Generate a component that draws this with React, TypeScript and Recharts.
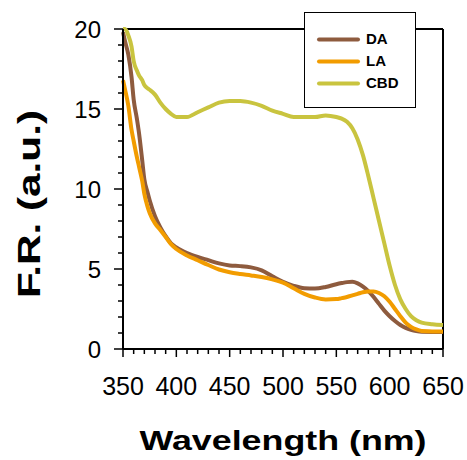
import React from 'react';
import { LineChart, Line, XAxis, YAxis, Legend, ReferenceLine } from 'recharts';

const wavelengths = [350, 352, 355, 358, 360, 363, 365, 368, 370, 373, 375, 380, 385, 390, 395, 400, 410, 420, 430, 440, 450, 460, 470, 480, 490, 500, 510, 520, 530, 540, 550, 555, 560, 565, 570, 575, 580, 585, 590, 595, 600, 605, 610, 615, 620, 625, 630, 640, 650];
const daValues = [19.8, 19.2, 18.4, 17.0, 15.6, 14.4, 13.5, 11.8, 10.6, 9.8, 9.3, 8.3, 7.6, 7.05, 6.6, 6.35, 6.0, 5.75, 5.55, 5.35, 5.22, 5.18, 5.1, 4.92, 4.55, 4.2, 3.95, 3.8, 3.78, 3.88, 4.05, 4.12, 4.18, 4.2, 4.1, 3.9, 3.62, 3.25, 2.82, 2.4, 2.05, 1.75, 1.5, 1.32, 1.2, 1.12, 1.08, 1.07, 1.07];
const laValues = [16.8, 16.2, 15.2, 13.7, 13.0, 12.0, 11.4, 10.5, 9.7, 8.9, 8.5, 7.85, 7.44, 7.0, 6.55, 6.25, 5.85, 5.55, 5.25, 4.97, 4.8, 4.69, 4.6, 4.5, 4.35, 4.15, 3.8, 3.45, 3.22, 3.1, 3.12, 3.18, 3.25, 3.35, 3.45, 3.55, 3.6, 3.6, 3.5, 3.3, 2.95, 2.5, 2.05, 1.65, 1.38, 1.22, 1.13, 1.1, 1.1];
const cbdValues = [20.0, 20.0, 19.6, 18.9, 18.0, 17.4, 17.1, 16.8, 16.5, 16.3, 16.2, 15.9, 15.4, 15.0, 14.7, 14.5, 14.5, 14.8, 15.1, 15.4, 15.5, 15.5, 15.4, 15.2, 14.9, 14.7, 14.5, 14.5, 14.5, 14.6, 14.5, 14.4, 14.2, 13.8, 13.1, 12.1, 10.8, 9.4, 8.0, 6.6, 5.2, 4.0, 3.1, 2.5, 2.05, 1.8, 1.65, 1.55, 1.5];

const xTicks = [350, 360, 370, 380, 390, 400, 410, 420, 430, 440, 450, 460, 470, 480, 490, 500, 510, 520, 530, 540, 550, 560, 570, 580, 590, 600, 610, 620, 630, 640, 650];
const xLabelTicks = [350, 400, 450, 500, 550, 600, 650];
const yTicks = [0, 1, 2, 3, 4, 5, 6, 7, 8, 9, 10, 11, 12, 13, 14, 15, 16, 17, 18, 19, 20];
const yLabelTicks = [0, 5, 10, 15, 20];

const seriesNames = ['DA', 'LA', 'CBD'];
const seriesColors = ['#8e5b3e', '#f29c00', '#c9c43f'];

const data = wavelengths.map((wl, i) => ({
  wl,
  DA: daValues[i],
  LA: laValues[i],
  CBD: cbdValues[i],
}));

const FONT = '"Liberation Sans", Arial, Helvetica, sans-serif';

const XTick = (props: any) => {
  const { x, y, payload } = props;
  const major = xLabelTicks.includes(payload.value);
  return (
    <g>
      <line x1={x} x2={x} y1={y} y2={y + (major ? 8 : 5)} stroke="#000" strokeWidth={1.5} />
      {major && (
        <text x={x} y={y + 46} textAnchor="middle" fontFamily={FONT} fontSize={25} fill="#000">
          {payload.value}
        </text>
      )}
    </g>
  );
};

const YTick = (props: any) => {
  const { x, y, payload } = props;
  const major = yLabelTicks.includes(payload.value);
  return (
    <g>
      <line x1={x - (major ? 9 : 5)} x2={x} y1={y} y2={y} stroke="#000" strokeWidth={1.5} />
      {major && (
        <text x={x - 22} y={y + 8.5} textAnchor="end" fontFamily={FONT} fontSize={24} fill="#000">
          {payload.value}
        </text>
      )}
    </g>
  );
};

const renderXTitle = (props: any) => {
  const vb = props.viewBox || { x: 123, y: 349, width: 320, height: 111 };
  const cx = vb.x + vb.width / 2;
  return (
    <text x={cx} y={vb.y + 101} textAnchor="middle" fontFamily={FONT} fontWeight="bold" fontSize={28}
      textLength={287} lengthAdjust="spacingAndGlyphs" fill="#000">
      Wavelength (nm)
    </text>
  );
};

const renderYTitle = (props: any) => {
  const vb = props.viewBox || { x: 0, y: 29, width: 123, height: 320 };
  const tx = vb.x + 40;
  const ty = vb.y + vb.height / 2 + 15;
  return (
    <text x={tx} y={ty} transform={`rotate(-90, ${tx}, ${ty})`} textAnchor="middle" fontFamily={FONT}
      fontWeight="bold" fontSize={32} textLength={188} lengthAdjust="spacingAndGlyphs" fill="#000">
      F.R. (a.u.)
    </text>
  );
};

const renderLegend = (props: any) => {
  const payload = [...(props.payload || [])].sort(
    (a: any, b: any) => seriesNames.indexOf(a.value) - seriesNames.indexOf(b.value)
  );
  return (
    <div style={{ width: 112, height: 96, border: '1.5px solid #000', background: '#fff', boxSizing: 'border-box', position: 'relative' }}>
      <svg width={112} height={96} style={{ position: 'absolute', left: -1.5, top: -1.5 }}>
        {payload.map((entry: any, i: number) => (
          <g key={entry.value}>
            <line x1={15} x2={54} y1={27.5 + i * 22} y2={27.5 + i * 22} stroke={entry.color} strokeWidth={4} strokeLinecap="round" />
            <text x={62} y={32 + i * 22} fontFamily={FONT} fontWeight="bold" fontSize={15} fill="#000">
              {entry.value}
            </text>
          </g>
        ))}
      </svg>
    </div>
  );
};

export default function App() {
  return (
    <div style={{ position: 'absolute', left: 0, top: 0, width: 467, height: 460, background: '#fff' }}>
      <LineChart width={467} height={460} data={data} margin={{ top: 29, right: 24, bottom: 0, left: 0 }}>
        <XAxis
          dataKey="wl"
          type="number"
          domain={[350, 650]}
          ticks={xTicks}
          interval={0}
          tickSize={0}
          tickMargin={0}
          tickLine={false}
          tick={<XTick />}
          height={111}
          axisLine={{ stroke: '#000', strokeWidth: 2 }}
          label={{ content: renderXTitle }}
        />
        <YAxis
          type="number"
          domain={[0, 20]}
          ticks={yTicks}
          interval={0}
          tickSize={0}
          tickMargin={0}
          tickLine={false}
          tick={<YTick />}
          width={123}
          axisLine={{ stroke: '#000', strokeWidth: 2 }}
          label={{ content: renderYTitle }}
        />
        <ReferenceLine y={20} stroke="#000" strokeWidth={2} />
        <ReferenceLine x={650} stroke="#000" strokeWidth={2} />
        {seriesNames.map((name, i) => (
          <Line
            key={name}
            dataKey={name}
            name={name}
            type="monotone"
            stroke={seriesColors[i]}
            strokeWidth={4}
            dot={false}
            activeDot={false}
            isAnimationActive={false}
          />
        ))}
        <Legend
          layout="horizontal"
          verticalAlign="middle"
          align="center"
          content={renderLegend}
          wrapperStyle={{ position: 'absolute', left: 304, top: 12, width: 112, height: 96 }}
        />
      </LineChart>
    </div>
  );
}
